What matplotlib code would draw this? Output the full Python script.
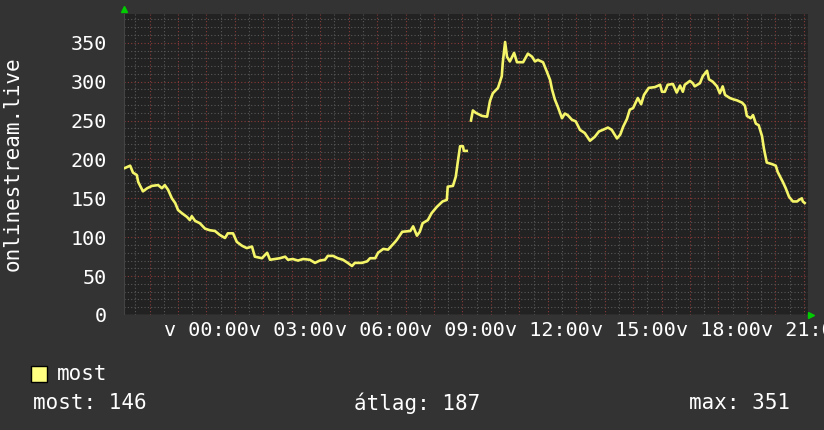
import numpy as np
import matplotlib
matplotlib.use("Agg")
import matplotlib.pyplot as plt
from matplotlib.ticker import MultipleLocator

# minutes relative to 00:00 of the labelled day, listeners
minutes = [-172, -161, -155, -147, -144, -134, -125, -115, -102, -94, -88, -81,
           -73, -66, -60, -52, -41, -35, -31, -24, -14, -3, 7, 18, 28, 39, 45,
           56, 64, 75, 85, 96, 102, 109, 117, 128, 134, 145, 155, 166, 172, 182,
           193, 204, 218, 229, 239, 250, 256, 267, 277, 288, 298, 307, 313, 328,
           339, 345, 356, 362, 373, 383, 392, 398, 402, 413, 430, 436, 444, 450,
           456, 467, 475, 486, 498, 507, 509, 520, 526, 530, 535, 541, 543, 549,
           555, 558, 562, 568, 581, 592, 598, 604, 615, 623, 625, 630, 634, 640,
           649, 655, 668, 678, 687, 693, 699, 710, 718, 725, 729, 735, 741, 750,
           756, 762, 771, 779, 788, 798, 809, 819, 828, 836, 847, 855, 866, 873,
           879, 887, 893, 900, 910, 917, 923, 933, 946, 957, 961, 967, 973, 984,
           992, 999, 1005, 1009, 1020, 1026, 1030, 1041, 1047, 1056, 1060, 1068,
           1077, 1083, 1089, 1094, 1104, 1113, 1119, 1130, 1136, 1140, 1148,
           1153, 1159, 1165, 1172, 1176, 1182, 1193, 1201, 1205, 1216, 1222,
           1229, 1237, 1246, 1250, 1256, 1258, 1262]
listeners = [189, 192, 183, 180, 171, 159, 163, 166, 167, 163, 167, 161,
             150, 144, 135, 131, 126, 122, 127, 121, 118, 111, 109, 108, 103, 99, 105,
             105, 94, 89, 86, 88, 75, 74, 73, 80, 71, 72, 73, 75, 71, 72,
             70, 72, 71, 67, 70, 71, 76, 76, 73, 71, 67, 63, 67, 67,
             69, 73, 73, 80, 85, 84, 90, 94, 97, 107, 108, 114, 102, 107,
             118, 122, 131, 139, 146, 148, 165, 166, 178, 196, 217, 217, 211, 211,
             np.nan, 250, 263, 260, 256, 255, 275, 285, 292, 307, 324, 351, 332, 326,
             337, 325, 325, 336, 332, 326, 328, 325, 313, 302, 290, 277, 268, 253,
             259, 257, 251, 249, 238, 234, 224, 229, 236, 238, 241, 238, 227, 232,
             242, 252, 264, 266, 279, 271, 283, 292, 293, 296, 287, 287, 296, 297,
             286, 295, 287, 296, 301, 298, 294, 298, 307, 314, 303, 300,
             294, 285, 294, 283, 279, 277, 276, 273, 269, 256, 253,
             257, 246, 244, 230, 214, 196, 194, 192, 184, 171, 163,
             152, 146, 146, 148, 150, 146, 144]

tick_minutes = [0, 180, 360, 540, 720, 900, 1080, 1260]
tick_labels = ["v 00:00", "v 03:00", "v 06:00", "v 09:00", "v 12:00",
               "v 15:00", "v 18:00", "v 21:00"]
y_label = "onlinestream.live"
series_name = "most"
stats = [("most", 146), ("átlag", 187), ("max", 351)]

bg = "#333333"
canvas = "#222222"
fg = "#ffffff"
line_color = "#f5f56a"
mono = "DejaVu Sans Mono"

fig = plt.figure(figsize=(8.24, 4.30), dpi=100, facecolor=bg)
ax = fig.add_axes([124 / 824, 1 - 315 / 430, 684 / 824, 301 / 430])
ax.set_facecolor(canvas)

ax.set_xlim(-174, 1269)
ax.set_ylim(0, 387)

# grid: minor grey, major red (rrdtool style)
ax.xaxis.set_major_locator(MultipleLocator(60))
ax.xaxis.set_minor_locator(MultipleLocator(30))
ax.yaxis.set_major_locator(MultipleLocator(50))
ax.yaxis.set_minor_locator(MultipleLocator(10))
ax.grid(which="minor", color="#585858", linestyle=(0, (1, 2)), linewidth=0.8)
ax.grid(which="major", color="#8a3a3a", linestyle=(0, (1, 2)), linewidth=0.8)
ax.set_axisbelow(True)

ax.tick_params(which="both", length=0, colors=fg)
ax.set_xticklabels([])
for m, lab in zip(tick_minutes, tick_labels):
    ax.text(m, -8, lab, ha="center", va="top", color=fg, fontsize=14.5,
            family=mono, clip_on=False)
ax.set_yticks(np.arange(0, 351, 50))
ax.set_yticklabels([str(v) for v in range(0, 351, 50)], fontsize=14.5,
                   family=mono, color=fg)
ax.tick_params(axis="y", pad=12)

for s in ax.spines.values():
    s.set_visible(False)
ax.axhline(0, color="#555555", linewidth=1)
ax.axvline(-174, color="#444444", linewidth=1.5)

ax.plot(minutes, listeners, color=line_color, linewidth=1.9)

# green axis arrows
ax.plot([0], [1.015], marker="^", color="#00cc00", markersize=4,
        transform=ax.transAxes, clip_on=False)
ax.plot([1.005], [0], marker=">", color="#00cc00", markersize=4,
        transform=ax.transAxes, clip_on=False)

fig.text(13 / 824, 1 - 164 / 430, y_label, rotation=90, ha="center",
         va="center", color=fg, fontsize=15, family=mono)

# legend
fig.patches.append(plt.Rectangle((31 / 824, 1 - 382 / 430), 16 / 824, 16 / 430,
                                 transform=fig.transFigure, facecolor="#ffff80",
                                 edgecolor="black", linewidth=1))
fig.text(57 / 824, 1 - 374 / 430, series_name, ha="left", va="center",
         color=fg, fontsize=15, family=mono)
xs = [33, 354, 689]
for x, (name, val) in zip(xs, stats):
    fig.text(x / 824, 1 - 403 / 430, f"{name}: {val}", ha="left",
             va="center", color=fg, fontsize=15, family=mono)

fig.savefig("out.png", dpi=100, facecolor=bg)
